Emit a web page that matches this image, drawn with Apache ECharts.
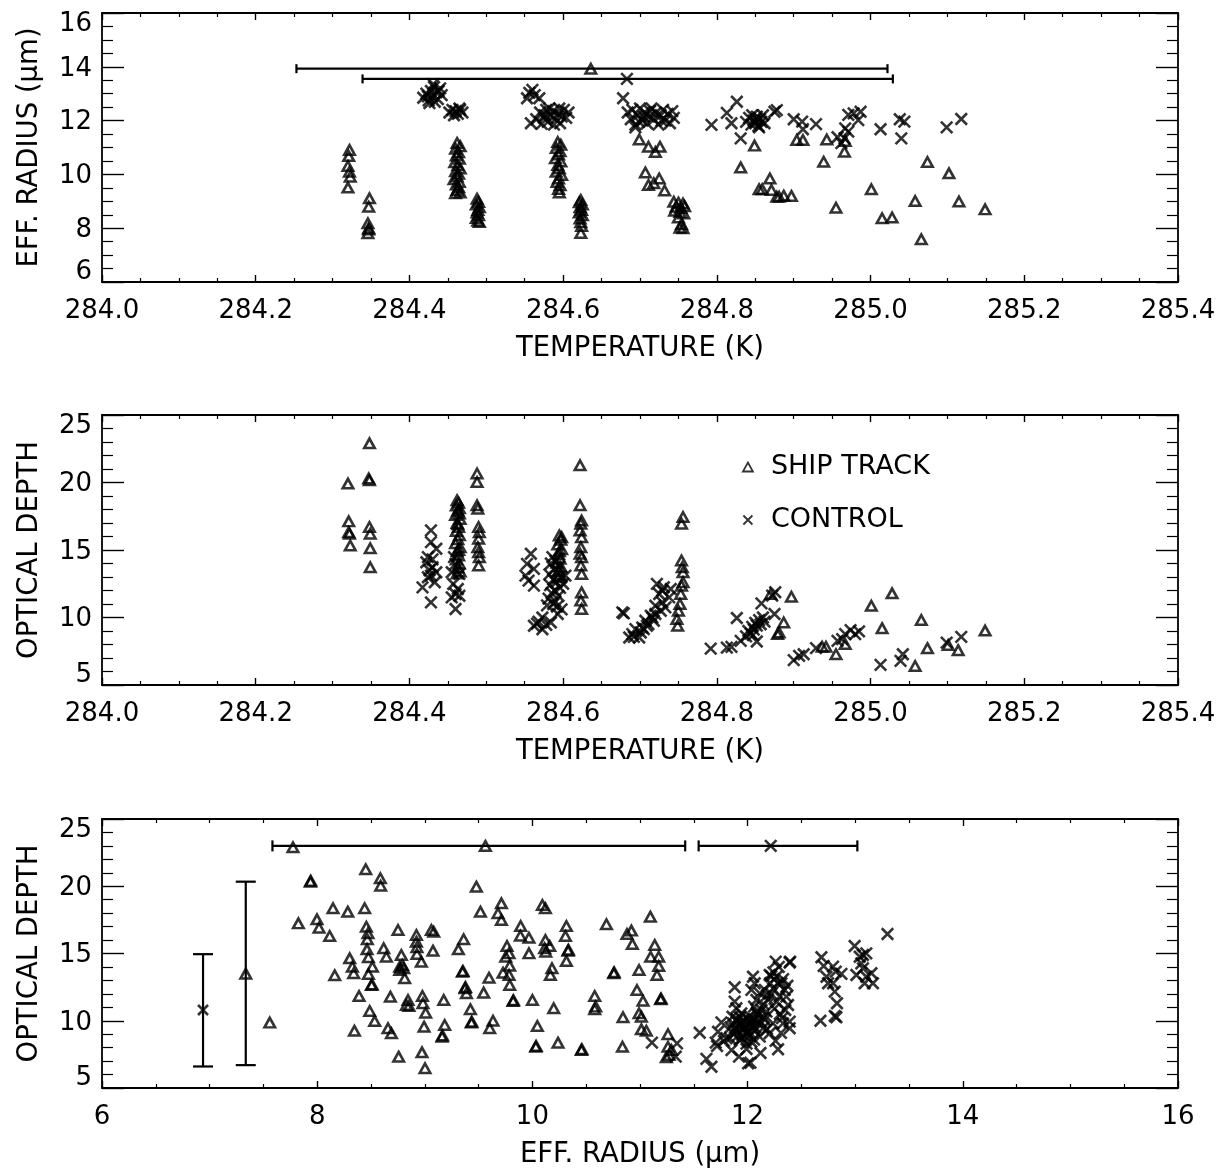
<!DOCTYPE html>
<html><head><meta charset="utf-8">
<script src="https://cdn.jsdelivr.net/npm/echarts@6/dist/echarts.min.js"></script>
<style>html,body{margin:0;padding:0;background:#fff}#c{width:1228px;height:1173px}</style>
</head><body><div id="c"></div>
<script>
// ---------- DATA ----------
const legendNames = ['SHIP TRACK','CONTROL'];

// Panel 1: effective radius vs temperature
const p1Ship = [
[284.322,10.91],[284.321,10.68],[284.320,10.31],[284.322,10.10],[284.323,9.91],[284.320,9.51],
[284.348,9.11],[284.347,8.80],[284.346,8.18],[284.347,8.00],[284.346,7.81],[284.347,7.95],
[284.462,11.17],[284.466,11.05],[284.460,10.95],[284.464,10.82],[284.461,10.70],[284.465,10.58],[284.459,10.45],[284.463,10.34],[284.466,10.22],[284.460,10.12],[284.464,10.02],[284.462,9.92],[284.458,9.82],[284.465,9.72],[284.461,9.62],[284.464,9.52],[284.462,9.42],[284.466,9.33],[284.460,9.30],
[284.488,9.09],[284.490,8.97],[284.487,8.88],[284.491,8.78],[284.489,8.68],[284.488,8.58],[284.490,8.48],[284.487,8.38],[284.489,8.28],[284.491,8.23],
[284.593,11.20],[284.597,11.10],[284.591,10.98],[284.596,10.86],[284.594,10.74],[284.590,10.60],[284.597,10.48],[284.593,10.35],[284.595,10.22],[284.591,10.10],[284.598,9.98],[284.594,9.85],[284.592,9.72],[284.596,9.60],[284.594,9.46],[284.595,9.33],
[284.623,9.05],[284.621,8.96],[284.625,8.88],[284.622,8.78],[284.624,8.68],[284.621,8.58],[284.625,8.48],[284.622,8.36],[284.623,8.22],[284.624,8.08],[284.623,7.82],
[284.699,11.30],[284.711,11.03],[284.720,10.83],[284.726,11.03],[284.707,10.07],[284.711,9.61],[284.725,9.85],[284.718,9.67],[284.732,9.40],
[284.744,8.98],[284.750,8.95],[284.756,8.92],[284.747,8.80],[284.753,8.75],[284.758,8.82],[284.745,8.65],[284.752,8.60],[284.757,8.55],[284.750,8.40],[284.754,8.15],[284.752,8.02],[284.756,8.00],
[284.831,10.26],[284.849,11.07],[284.855,9.45],[284.859,9.45],[284.869,9.85],[284.871,9.42],[284.878,9.17],[284.881,9.17],[284.887,9.21],[284.897,9.20],[284.904,11.28],[284.912,11.28],[284.939,10.47],[284.943,11.30],[284.955,8.76],[284.966,10.84],[284.967,11.24],[285.001,9.45],[285.015,8.37],[285.028,8.40],[285.058,9.01],[285.066,7.59],[285.074,10.46],[285.102,10.04],[285.115,8.99],[285.149,8.70]
];
const p1Control = [
[284.418,12.85],[284.422,13.00],[284.425,12.75],[284.428,13.10],[284.430,12.90],[284.432,13.25],[284.435,13.05],[284.437,12.80],[284.440,13.20],[284.442,12.95],[284.426,12.65],[284.433,12.70],[284.431,13.35],[284.438,13.10],[284.424,12.90],
[284.452,12.30],[284.456,12.40],[284.460,12.35],[284.463,12.25],[284.466,12.40],[284.469,12.30],[284.458,12.20],[284.465,12.45],
[284.556,13.03],[284.560,13.14],[284.553,12.83],[284.569,12.83],[284.563,12.95],
[284.558,11.90],[284.565,12.05],[284.570,12.30],[284.575,12.10],[284.578,12.40],[284.580,11.95],[284.584,12.20],[284.587,12.35],[284.590,12.05],[284.593,12.25],[284.596,11.90],[284.598,12.15],[284.601,12.40],[284.604,12.10],[284.607,12.30],[284.572,11.88],[284.588,11.85],[284.582,12.45],[284.595,12.45],[284.576,12.20],
[284.678,12.83],
[284.684,12.30],[284.688,12.05],[284.690,12.40],[284.694,11.85],[284.697,12.20],[284.700,12.45],[284.703,12.00],[284.706,12.30],[284.709,11.90],[284.712,12.15],[284.715,12.45],[284.718,12.05],[284.721,12.30],[284.724,11.85],[284.727,12.20],[284.730,12.40],[284.733,12.00],[284.736,12.25],[284.739,11.90],[284.742,12.35],[284.744,12.10],[284.699,11.95],[284.713,12.35],[284.728,12.00],[284.705,12.15],
[284.694,11.75],[284.793,11.84],[284.813,12.29],[284.826,12.70],[284.819,11.90],[284.831,11.34],
[284.838,11.95],[284.842,12.10],[284.845,11.85],[284.848,12.00],[284.850,11.90],[284.852,12.15],[284.854,11.80],[284.856,12.05],[284.858,11.95],[284.860,12.20],[284.862,11.90],[284.846,12.20],[284.851,12.05],[284.855,11.75],[284.849,11.95],
[284.875,12.33],[284.878,12.39],[284.900,12.05],[284.911,11.96],[284.912,11.68],[284.929,11.87],[284.957,11.38],[284.962,11.16],[284.967,11.71],[284.971,12.21],[284.978,12.27],[284.984,12.02],[284.987,12.33],[284.971,11.59],[284.966,11.34],[285.013,11.68],[285.038,12.05],[285.044,11.96],[285.040,11.34],[285.099,11.75],[285.118,12.06]
];
// mean and spread bars in panel 1: [low, high, level]
const p1ShipBar = [[284.253, 285.022, 13.93]];
const p1ShipMean = [[284.636, 13.93]];
const p1CtrlBar = [[284.339, 285.029, 13.55]];
const p1CtrlMean = [[284.683, 13.55]];

// Panel 2: optical depth vs temperature
const p2Ship = [
[284.320,19.92],[284.321,17.12],[284.321,16.32],[284.322,16.20],[284.323,15.33],
[284.348,22.90],[284.347,20.29],[284.348,20.17],[284.348,16.70],[284.349,16.20],[284.349,15.13],[284.349,13.72],
[284.462,18.68],[284.464,18.50],[284.461,18.30],[284.465,18.10],[284.463,17.90],[284.460,17.60],[284.466,17.30],[284.462,17.00],[284.464,16.70],[284.461,16.40],[284.465,16.10],[284.463,15.80],[284.460,15.50],[284.466,15.20],[284.462,14.90],[284.464,14.60],[284.461,14.30],[284.465,14.00],[284.463,13.70],[284.466,13.40],[284.462,13.25],[284.464,15.00],[284.463,16.90],[284.465,17.70],
[284.488,20.67],[284.488,20.04],[284.488,18.31],[284.489,18.06],[284.490,16.70],[284.491,16.32],[284.490,15.83],[284.489,15.21],[284.490,14.84],[284.491,14.46],[284.490,13.85],
[284.595,16.08],[284.597,15.75],[284.593,15.40],[284.598,15.05],[284.594,14.70],[284.596,14.35],[284.592,14.05],[284.597,13.75],[284.594,13.45],[284.596,13.15],[284.593,12.98],[284.598,15.95],[284.595,14.90],
[284.622,21.28],[284.622,18.31],[284.624,17.19],[284.623,16.95],[284.622,16.45],[284.624,15.95],[284.623,15.21],[284.622,14.72],[284.624,14.46],[284.623,13.85],[284.624,13.23],[284.624,11.86],[284.623,11.25],[284.624,10.63],
[284.756,17.44],[284.754,16.95],[284.754,14.22],[284.755,13.72],[284.756,13.35],[284.756,12.61],[284.754,12.36],[284.753,11.74],[284.752,11.00],[284.750,10.50],[284.748,9.89],[284.749,9.39],
[284.870,11.74],[284.897,11.54],[284.887,9.63],[284.879,8.77],[284.881,8.89],[284.937,7.83],[284.942,7.83],[284.955,7.28],[284.967,8.03],[285.001,10.87],[285.015,9.21],[285.028,11.79],[285.058,6.41],[285.066,9.81],[285.074,7.73],[285.101,7.97],[285.114,7.58],[285.149,9.03]
];
const p2Control = [
[284.428,16.45],[284.428,15.58],[284.435,15.09],[284.424,14.47],[284.422,14.09],[284.430,13.72],[284.435,13.35],[284.428,13.10],[284.424,12.98],[284.433,12.61],[284.417,12.23],[284.428,11.12],[284.430,14.30],[284.426,13.50],
[284.458,14.47],[284.460,13.97],[284.455,13.35],[284.465,13.23],[284.457,12.48],[284.463,12.11],[284.460,11.74],[284.455,11.49],[284.465,11.61],[284.460,10.63],
[284.558,14.72],[284.553,13.97],[284.562,13.60],[284.551,13.10],[284.555,12.73],[284.562,12.36],
[284.562,9.39],[284.573,10.00],[284.573,9.13],[284.584,9.63],[284.593,10.26],[284.568,9.70],[284.578,9.45],[284.566,9.55],
[284.586,14.47],[284.603,13.10],[284.590,14.20],[284.584,14.00],[284.595,13.80],[284.588,13.60],[284.592,13.40],[284.582,13.20],[284.598,13.00],[284.587,12.80],[284.591,12.60],[284.583,12.40],[284.596,12.20],[284.589,12.00],[284.585,11.80],[284.594,11.60],[284.581,11.40],[284.590,11.20],[284.587,11.00],[284.592,10.80],[284.598,10.60],[284.579,10.90],[284.600,12.50],
[284.677,10.38],[284.679,10.30],
[284.686,8.52],[284.690,8.77],[284.699,8.52],[284.694,9.14],[284.703,9.26],[284.707,9.76],[284.711,9.51],[284.716,10.00],[284.720,10.26],[284.722,12.49],[284.725,11.74],[284.729,11.12],[284.731,12.24],[284.733,10.75],[284.738,11.49],[284.727,10.50],[284.718,9.76],[284.709,9.39],[284.701,8.89],[284.692,8.57],[284.714,10.13],[284.729,11.99],[284.740,12.11],[284.720,10.87],[284.705,9.14],
[284.792,7.70],[284.813,7.77],[284.819,7.83],[284.826,9.96],[284.831,8.27],
[284.838,8.60],[284.841,9.00],[284.844,8.80],[284.846,9.30],[284.848,9.10],[284.850,9.60],[284.852,9.40],[284.855,9.80],[284.857,9.50],[284.860,10.00],[284.862,9.70],[284.847,8.70],
[284.852,8.22],[284.858,11.05],[284.872,11.62],[284.876,11.87],[284.875,10.26],[284.900,6.84],[284.907,7.16],[284.913,7.28],[284.929,7.73],[284.957,8.27],[284.963,8.40],[284.967,8.77],[284.974,9.07],[284.980,8.77],[284.985,8.97],[285.013,6.49],[285.039,6.79],[285.042,7.28],[285.099,8.14],[285.118,8.57]
];

// Panel 3: optical depth vs effective radius
const p3Ship = [
[7.559,9.86],[7.775,22.9],[7.937,20.34],[7.940,20.40],[7.825,17.24],[7.998,17.54],[8.017,16.92],[8.116,16.30],[8.147,18.36],[8.284,18.11],
[8.163,13.38],[8.302,14.64],[8.327,14.02],[8.339,13.53],[8.389,11.84],[8.346,9.26],[8.451,21.26],[8.441,18.36],[8.457,16.99],[8.472,16.50],
[8.466,16.06],[8.463,15.31],[8.476,14.72],[8.513,14.02],[8.476,13.48],[8.504,12.66],[8.510,12.70],[8.488,10.73],[8.534,9.98],[8.587,20.59],
[8.590,20.04],[8.618,15.39],[8.643,14.76],[8.680,11.79],[8.658,9.44],[8.690,9.07],[8.751,16.75],[8.757,7.33],[8.782,14.89],[8.767,14.02],
[8.792,14.14],[8.767,13.77],[8.804,13.90],[8.813,13.16],[8.844,11.54],[8.829,11.17],[8.853,11.09],[8.922,16.38],[8.922,15.88],[8.927,15.46],
[8.927,14.96],[8.968,14.39],[8.978,11.84],[8.983,11.30],[9.008,10.60],[8.993,9.56],[8.974,7.65],[9.002,6.47],[9.061,16.75],[9.083,16.62],
[9.076,15.21],[9.176,11.54],[9.185,9.68],[9.160,8.81],[9.165,8.90],[9.312,15.31],[9.361,16.06],[9.350,13.65],[9.355,13.70],[9.374,12.41],[9.378,12.50],
[9.387,12.04],[9.424,10.85],[9.433,9.86],[9.437,9.92],[9.479,19.97],[9.517,18.11],[9.547,12.09],[9.597,13.20],[9.603,9.44],[9.634,10.00],
[9.712,18.73],[9.680,17.99],[9.712,17.49],[9.764,15.56],[9.752,14.76],[9.783,15.01],[9.789,14.09],[9.727,13.57],[9.783,13.40],[9.789,12.66],
[9.820,11.47],[9.824,11.52],[9.891,17.04],[9.888,16.32],[9.968,16.17],[9.968,15.01],[10.000,11.54],[10.046,9.61],[10.031,8.07],[10.035,8.12],
[10.093,18.61],[10.121,18.36],[10.121,16.00],[10.161,15.56],[10.114,15.39],[10.124,15.13],[10.182,13.90],[10.167,13.40],[10.198,10.93],[10.238,8.37],
[10.316,17.04],[10.307,16.30],[10.331,15.21],[10.335,15.28],[10.316,14.44],[10.455,7.82],[10.460,7.88],[10.579,11.84],[10.588,11.05],[10.579,10.85],
[10.688,17.17],[10.756,13.53],[10.760,13.60],[10.842,10.26],[10.837,8.07],[10.879,16.45],[10.920,16.70],[10.929,15.71],[10.972,12.29],[10.991,13.77],
[10.991,10.56],[11.013,10.30],[11.028,11.49],[11.013,9.36],[11.059,9.26],[11.096,17.74],[11.099,14.76],[11.137,15.63],[11.174,14.76],[11.174,14.07],
[11.158,13.40],[11.192,11.59],[11.196,11.65],[11.260,9.00],[11.260,8.07],[11.270,7.45],[11.245,7.28],[11.292,7.82]
];
const p3Control = [
[11.111,8.37],[11.344,8.32],[11.332,7.33],[11.555,9.11],[11.617,7.16],[11.664,6.58],[11.757,9.88],[11.725,9.18],[11.704,8.37],[11.716,8.12],
[11.880,12.49],[11.880,11.42],[11.896,10.93],[11.834,8.70],[11.803,8.70],[11.850,7.82],[11.920,7.33],[12.004,6.83],[12.026,6.88],[12.050,13.27],
[12.066,12.79],[12.035,12.29],[12.082,11.54],[12.113,12.04],[12.261,14.39],[12.391,14.32],[12.395,14.40],[12.205,13.40],[12.268,13.27],[12.314,12.79],
[12.345,12.29],[12.237,12.41],[12.298,11.79],[12.360,11.79],[12.376,11.17],[12.175,10.68],[12.159,10.06],[12.236,9.81],[12.391,9.93],[12.391,9.44],
[12.329,9.81],[12.205,9.07],[12.283,7.88],[12.143,9.44],[12.113,8.82],[11.957,10.06],[11.989,9.07],[11.927,8.57],[12.035,8.44],[12.050,9.93],
[11.942,10.55],[12.082,10.55],[11.864,9.81],[11.896,9.31],
[11.860,10.30],[11.900,10.10],[11.920,9.60],[11.940,9.90],[11.960,9.40],[11.980,9.70],[12.000,10.20],[12.010,9.20],[12.030,9.80],[12.060,10.10],
[12.070,9.50],[12.090,9.90],[12.100,10.40],[11.910,8.90],[11.950,8.70],[11.990,8.30],[12.020,8.90],[12.060,8.60],[11.870,9.00],[11.840,9.50],
[12.130,10.80],[12.150,11.20],[12.190,11.60],[12.220,12.00],[12.250,10.90],[12.270,11.40],[12.300,10.50],[12.320,10.20],[12.350,10.80],[12.370,12.60],
[12.210,12.80],[12.240,13.60],[12.290,14.00],[12.160,12.30],[12.180,9.40],[12.260,8.50],[12.310,9.10],[12.120,7.60],[11.780,8.50],[11.990,7.90],
[11.900,9.95],[11.930,10.25],[11.970,9.55],[12.000,9.05],[12.020,10.35],[12.040,9.65],[12.070,9.25],[12.090,10.65],[11.950,8.95],[12.120,9.95],
[11.880,9.45],[12.150,10.25],[12.060,11.05],[12.180,11.90],[12.280,12.80],[12.330,13.10],[12.220,13.30],
[12.686,14.72],[12.707,14.07],[12.794,14.02],[12.819,13.65],[12.872,13.48],[12.733,13.27],[12.748,12.79],[12.794,12.79],[12.810,12.16],[12.831,11.30],
[12.810,10.35],[12.825,10.26],[12.677,10.00],[12.995,15.56],[13.042,14.76],[13.072,14.89],[13.103,15.01],[13.057,14.27],[13.072,13.90],[13.011,13.40],
[13.151,13.53],[13.088,12.79],[13.165,12.79],[13.103,13.27],[13.300,16.45]
];
// bars in panel 3
const p3ShipBar = [[7.584, 11.42, 23.0]];
const p3ShipMean = [[9.563, 23.0]];
const p3CtrlBar = [[11.545, 13.02, 23.0]];
const p3CtrlMean = [[12.215, 23.0]];
// vertical bars: [x, low, high]
const p3ShipVBar = [[7.336, 6.70, 20.34]];
const p3ShipVMean = [[7.336, 13.5]];
const p3CtrlVBar = [[6.939, 6.60, 14.95]];
const p3CtrlVMean = [[6.939, 10.8]];

// ---------- CHART ----------
const FONT = 'DejaVu Sans';
const CROSS = 'path://M0,0L10,10M10,0L0,10';
const chart = echarts.init(document.getElementById('c'), null, {renderer: 'canvas'});

const grids = [
  {left: 102, top: 13, width: 1076, height: 269},
  {left: 102, top: 415, width: 1076, height: 270},
  {left: 102, top: 819, width: 1076, height: 269}
];

const LBL = {fontSize: 26, fontFamily: FONT, color: '#000'};
function xAxisPair(gi, min, max, interval, minorSplit, name, fmt) {
  const base = {
    gridIndex: gi, type: 'value', min: min, max: max, interval: interval,
    axisLine: {show: true, onZero: false, lineStyle: {color: '#000', width: 1.8}},
    axisTick: {show: true, inside: true, length: 7, lineStyle: {color: '#000', width: 1.4}},
    minorTick: {show: true, splitNumber: minorSplit, length: 4, lineStyle: {color: '#000', width: 1.2}},
    splitLine: {show: false}, minorSplitLine: {show: false}
  };
  return [
    Object.assign({}, base, {
      position: 'bottom',
      axisLabel: Object.assign({show: true, margin: 16, formatter: fmt}, LBL),
      name: name, nameLocation: 'middle', nameGap: 53,
      nameTextStyle: {color: '#000', fontSize: 27.5, fontFamily: FONT}
    }),
    Object.assign({}, base, {position: 'top', axisLabel: {show: false}})
  ];
}
function yAxisPair(gi, min, max, interval, minorSplit, name) {
  const base = {
    gridIndex: gi, type: 'value', min: min, max: max, interval: interval,
    axisLine: {show: true, onZero: false, lineStyle: {color: '#000', width: 1.8}},
    axisTick: {show: true, inside: true, length: 22, lineStyle: {color: '#000', width: 1.4}},
    minorTick: {show: true, splitNumber: minorSplit, length: 11, lineStyle: {color: '#000', width: 1.2}},
    splitLine: {show: false}, minorSplitLine: {show: false}
  };
  return [
    Object.assign({}, base, {
      position: 'left',
      axisLabel: Object.assign({
        show: true, margin: 10,
        formatter: function (v) {
          if (v === max) return '{t|' + v + '}';
          if (v === min) return '{b|' + v + '}';
          return '{m|' + v + '}';
        },
        rich: {
          t: Object.assign({padding: [22, 0, 0, 0]}, LBL),
          b: Object.assign({padding: [0, 0, 20, 0]}, LBL),
          m: Object.assign({padding: [4, 0, 0, 0]}, LBL)
        }
      }, LBL),
      name: name, nameLocation: 'middle', nameGap: 58,
      nameTextStyle: {color: '#000', fontSize: 27.5, fontFamily: FONT}
    }),
    Object.assign({}, base, {position: 'right', axisLabel: {show: false}})
  ];
}
const tempFmt = v => v.toFixed(1);

const xAxes = [].concat(
  xAxisPair(0, 284.0, 285.4, 0.2, 4, 'TEMPERATURE (K)', tempFmt),
  xAxisPair(1, 284.0, 285.4, 0.2, 4, 'TEMPERATURE (K)', tempFmt),
  xAxisPair(2, 6, 16, 2, 4, 'EFF. RADIUS (\u03bcm)', v => String(v))
);
const yAxes = [].concat(
  yAxisPair(0, 6, 16, 2, 4, 'EFF. RADIUS (\u03bcm)'),
  yAxisPair(1, 5, 25, 5, 5, 'OPTICAL DEPTH'),
  yAxisPair(2, 5, 25, 5, 5, 'OPTICAL DEPTH')
);

const markStyle = {color: 'rgba(0,0,0,0)', borderColor: '#000', borderWidth: 2.6};

function shipSeries(data, xi, yi, size) {
  return {type: 'scatter', name: 'SHIP TRACK', xAxisIndex: xi, yAxisIndex: yi, data: data,
    symbol: 'triangle', symbolSize: size || [10.5, 9.5], itemStyle: markStyle, silent: true, animation: false, z: 3};
}
function ctrlSeries(data, xi, yi, size) {
  return {type: 'scatter', name: 'CONTROL', xAxisIndex: xi, yAxisIndex: yi, data: data,
    symbol: CROSS, symbolSize: size || 11.5, itemStyle: markStyle, silent: true, animation: false, z: 3};
}
function lineEl(x1, y1, x2, y2) {
  return {type: 'line', shape: {x1: x1, y1: y1, x2: x2, y2: y2}, style: {stroke: '#000', lineWidth: 2.2}};
}
function hBar(data, xi, yi, cap) {
  return {type: 'custom', xAxisIndex: xi, yAxisIndex: yi, data: data, silent: true, animation: false, z: 2,
    encode: {x: [0, 1], y: 2},
    renderItem: function (params, api) {
      const a = api.coord([api.value(0), api.value(2)]);
      const b = api.coord([api.value(1), api.value(2)]);
      return {type: 'group', children: [
        lineEl(a[0], a[1], b[0], b[1]),
        lineEl(a[0], a[1] - cap, a[0], a[1] + cap),
        lineEl(b[0], b[1] - cap, b[0], b[1] + cap)
      ]};
    }};
}
function vBar(data, xi, yi, cap) {
  return {type: 'custom', xAxisIndex: xi, yAxisIndex: yi, data: data, silent: true, animation: false, z: 2,
    encode: {x: 0, y: [1, 2]},
    renderItem: function (params, api) {
      const a = api.coord([api.value(0), api.value(1)]);
      const b = api.coord([api.value(0), api.value(2)]);
      return {type: 'group', children: [
        lineEl(a[0], a[1], b[0], b[1]),
        lineEl(a[0] - cap, a[1], a[0] + cap, a[1]),
        lineEl(b[0] - cap, b[1], b[0] + cap, b[1])
      ]};
    }};
}

const option = {
  backgroundColor: '#fff',
  animation: false,
  grid: grids,
  xAxis: xAxes,
  yAxis: yAxes,
  legend: {
    data: legendNames, orient: 'vertical', left: 737, top: 440,
    itemWidth: 10, itemHeight: 9, itemGap: 9,
    selectedMode: false,
    textStyle: {color: '#000', fontSize: 27, fontFamily: FONT, lineHeight: 28, padding: [0, 0, 16, 13]},
    itemStyle: {color: 'rgba(0,0,0,0)', borderColor: '#000', borderWidth: 1.8}
  },
  series: [
    shipSeries(p1Ship, 0, 0), ctrlSeries(p1Control, 0, 0),
    hBar(p1ShipBar, 0, 0, 4.5), hBar(p1CtrlBar, 0, 0, 4.5),
    shipSeries(p1ShipMean, 0, 0), ctrlSeries(p1CtrlMean, 0, 0),
    shipSeries(p2Ship, 2, 2), ctrlSeries(p2Control, 2, 2),
    shipSeries(p3Ship, 4, 4), ctrlSeries(p3Control, 4, 4),
    hBar(p3ShipBar, 4, 4, 5.5), hBar(p3CtrlBar, 4, 4, 5.5),
    shipSeries(p3ShipMean, 4, 4), ctrlSeries(p3CtrlMean, 4, 4),
    vBar(p3ShipVBar, 4, 4, 10), vBar(p3CtrlVBar, 4, 4, 10),
    shipSeries(p3ShipVMean, 4, 4), ctrlSeries(p3CtrlVMean, 4, 4, 10)
  ]
};
chart.setOption(option);
</script>
</body></html>
